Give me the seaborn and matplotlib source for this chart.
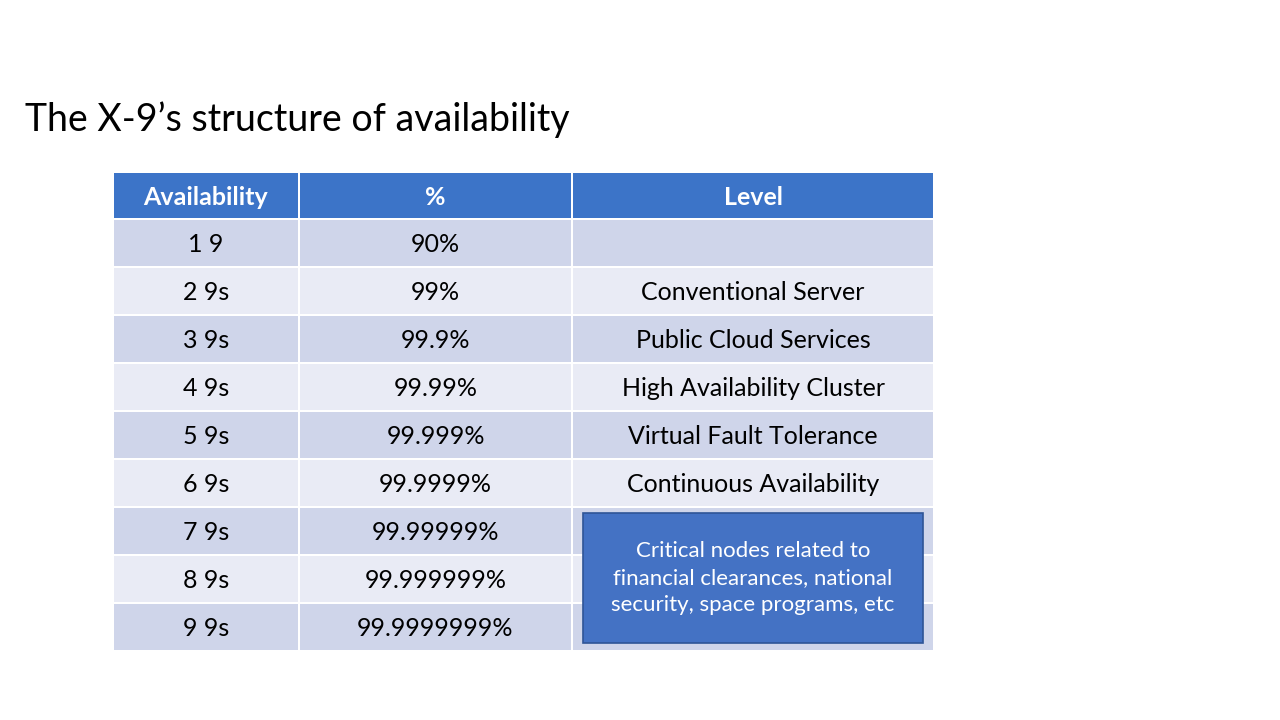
import seaborn as sns
import matplotlib.pyplot as plt
from matplotlib.patches import Rectangle

sns.set_theme(style="white")
plt.rcParams['font.family'] = ['Lato', 'DejaVu Sans']

title = "The X-9\u2019s structure of availability"
headers = ["Availability", "%", "Level"]
availability = ["1 9", "2 9s", "3 9s", "4 9s", "5 9s", "6 9s", "7 9s", "8 9s", "9 9s"]
percent = ["90%", "99%", "99.9%", "99.99%", "99.999%", "99.9999%",
           "99.99999%", "99.999999%", "99.9999999%"]
level = ["", "Conventional Server", "Public Cloud Services", "High Availability Cluster",
         "Virtual Fault Tolerance", "Continuous Availability", "", "", ""]
callout = "Critical nodes related to\nfinancial clearances, national\nsecurity, space programs, etc"

# layout (pixel coordinates)
col_edges = [(114, 298), (300, 571), (573, 933)]
header_y, header_h = 173, 45
row_y0, row_h, gap = 220, 48, 2
dark, light, head_col = "#CFD5EA", "#E9EBF5", "#3C74C8"

fig = plt.figure(figsize=(12.8, 7.2), dpi=100)
ax = fig.add_axes([0, 0, 1, 1])
ax.set_xlim(0, 1280)
ax.set_ylim(720, 0)
ax.axis("off")

ax.text(25, 120, title, fontsize=27, va="center", ha="left", color="black")

for (x0, x1), h in zip(col_edges, headers):
    ax.add_patch(Rectangle((x0, header_y), x1 - x0, header_h, color=head_col, lw=0))
    ax.text((x0 + x1) / 2, header_y + header_h / 2 + 2, h, color="white",
            fontsize=18, fontweight="bold", ha="center", va="center")

for i, row in enumerate(zip(availability, percent, level)):
    y = row_y0 + i * row_h
    fc = dark if i % 2 == 0 else light
    for (x0, x1), val in zip(col_edges, row):
        ax.add_patch(Rectangle((x0, y), x1 - x0, row_h - gap, color=fc, lw=0))
        if val:
            ax.text((x0 + x1) / 2, y + row_h / 2, val, fontsize=18,
                    ha="center", va="center", color="black")

ax.add_patch(Rectangle((583, 513), 340, 130, facecolor="#4472C4",
                       edgecolor="#2F5597", lw=1.2))
ax.text(753, 578, callout, color="white", fontsize=16, ha="center",
        va="center", linespacing=1.45)

fig.savefig("out.png", dpi=100)
